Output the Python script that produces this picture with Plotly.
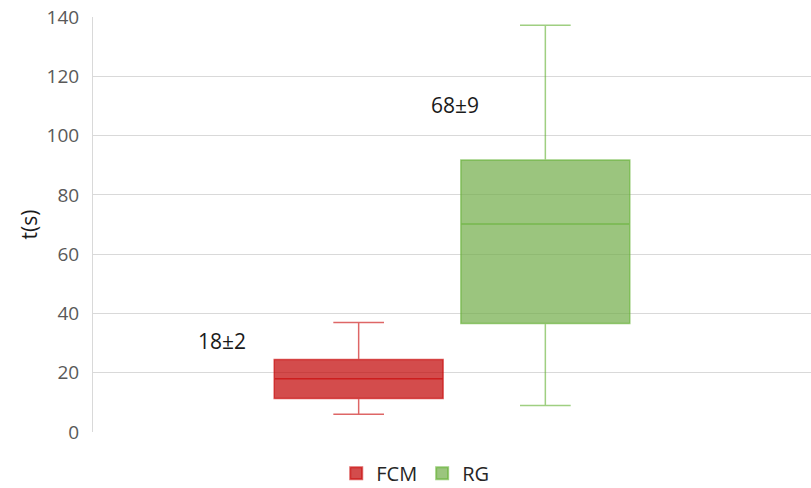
import plotly.graph_objects as go

# Box statistics per method (seconds)
category = ["t"]
series = ["FCM", "RG"]
q1 = [11.3, 36.6]
median = [18.0, 70.2]
q3 = [24.5, 91.8]
lower_fence = [6.0, 8.9]
upper_fence = [36.9, 137.2]

# Mean ± SD labels
label_text = ["18±2", "68±9"]
label_x = [-0.32, 0.004]
label_y = [30.6, 110.3]

y_ticks = [0, 20, 40, 60, 80, 100, 120, 140]

fills = ["rgba(192,0,0,0.7)", "rgba(112,173,71,0.7)"]
lines = ["rgba(200,0,0,0.6)", "rgba(95,175,45,0.6)"]

font_family = "Open Sans"

fig = go.Figure()
for i, name in enumerate(series):
    fig.add_trace(go.Box(
        name=name,
        x=category,
        q1=[q1[i]],
        median=[median[i]],
        q3=[q3[i]],
        lowerfence=[lower_fence[i]],
        upperfence=[upper_fence[i]],
        boxpoints=False,
        fillcolor=fills[i],
        line=dict(color=lines[i], width=1.5),
        whiskerwidth=0.3,
        hoverinfo="skip",
    ))

for t, x, y in zip(label_text, label_x, label_y):
    fig.add_annotation(
        x=x, y=y, xref="x", yref="y", text=t, showarrow=False,
        font=dict(family=font_family, size=21, color="#1a1a1a"),
    )

fig.update_layout(
    width=811, height=488,
    margin=dict(l=93, r=0, t=17, b=56, pad=0),
    paper_bgcolor="white",
    plot_bgcolor="white",
    boxmode="group",
    boxgap=0.48,
    boxgroupgap=0.095,
    font=dict(family=font_family),
    showlegend=True,
    legend=dict(
        orientation="h",
        xref="container", yref="container",
        x=0.512, y=0.03, xanchor="center", yanchor="middle",
        font=dict(family=font_family, size=20, color="#262626"),
        itemsizing="constant",
        bgcolor="rgba(0,0,0,0)",
    ),
    xaxis=dict(
        range=[-0.5, 0.5],
        showticklabels=False,
        showgrid=False,
        zeroline=False,
        showline=False,
        ticks="",
        fixedrange=True,
    ),
    yaxis=dict(
        range=[0, 140],
        tickvals=y_ticks,
        showgrid=True,
        gridcolor="#d9d9d9",
        gridwidth=1,
        zeroline=False,
        showline=True,
        linecolor="#d9d9d9",
        linewidth=1,
        ticks="",
        ticklabelstandoff=9,
        tickfont=dict(family=font_family, size=19, color="#595959"),
        title=dict(text="t(s)", standoff=3,
                   font=dict(family=font_family, size=21, color="#1a1a1a")),
        fixedrange=True,
    ),
)

fig.write_html("out.html")
